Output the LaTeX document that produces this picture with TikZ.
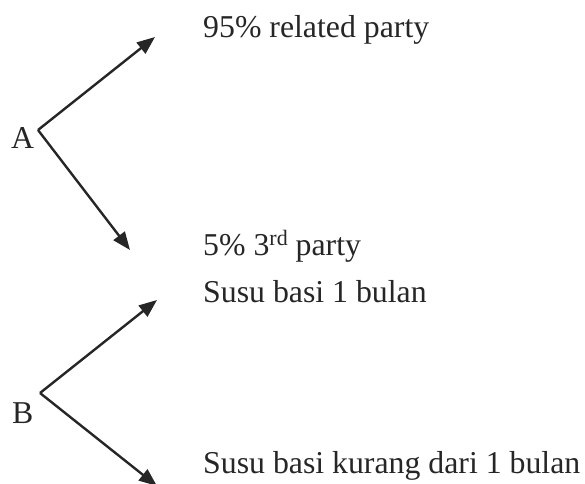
\documentclass[tikz,border=0pt]{standalone}
\usepackage{fontspec}
\setmainfont{Liberation Serif}
\usetikzlibrary{arrows.meta}
\definecolor{ink}{HTML}{262626}
\newcommand{\supr}[1]{\raisebox{10pt}{\fontsize{22}{22}\selectfont #1}}
\begin{document}
\begin{tikzpicture}[x=1pt,y=-1pt,
  lbl/.style={anchor=base west,inner sep=0pt,text=ink,font=\fontsize{31.8}{36}\selectfont},
  arr/.style={draw=ink,line width=2.4pt,-{Triangle[length=18pt,width=14pt]}}]
\useasboundingbox (0,0) rectangle (585,483);
% A branch
\node[lbl] (A) at (11,148) {A};
\coordinate (a0) at (38,130);
\coordinate (a1) at (155,37);
\coordinate (a2) at (130,250);
\node[lbl] (t1) at (203,37) {95\% related party};
\node[lbl] (t2) at (203,255) {5\% 3\supr{rd} party};
\draw[arr] (a0) -- (a1);
\draw[arr] (a0) -- (a2);
% B branch
\node[lbl] (B) at (12,423) {B};
\coordinate (b0) at (40,393);
\coordinate (b1) at (157,300);
\coordinate (b2) at (157,486);
\node[lbl] (t3) at (203,302) {Susu basi 1 bulan};
\node[lbl] (t4) at (203,473) {Susu basi kurang dari 1 bulan};
\draw[arr] (b0) -- (b1);
\draw[arr] (b0) -- (b2);
\end{tikzpicture}
\end{document}
